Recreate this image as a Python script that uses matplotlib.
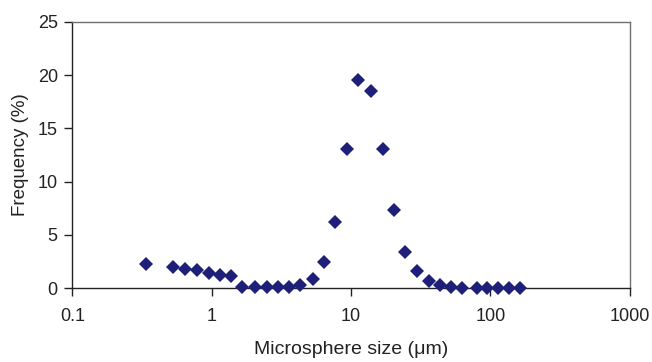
import numpy as np
import matplotlib
matplotlib.use("Agg")
import matplotlib.pyplot as plt
from matplotlib.ticker import FixedLocator, FixedFormatter, NullLocator

# microsphere size (um) and frequency (%)
size_um = [0.34, 0.53, 0.64, 0.79, 0.95, 1.15, 1.38, 1.66, 2.05, 2.48, 2.98,
           3.58, 4.31, 5.34, 6.41, 7.69, 9.3, 11.3, 13.8, 16.8, 20.2, 24.3,
           29.7, 36.1, 43.5, 52.5, 62.9, 79.7, 94.4, 112.6, 135.8, 163.8]
freq_pct = [2.3, 2.0, 1.84, 1.68, 1.43, 1.28, 1.15, 0.15, 0.15, 0.15, 0.15,
            0.15, 0.28, 0.9, 2.43, 6.18, 13.05, 19.5, 18.5, 13.05, 7.34, 3.43,
            1.62, 0.71, 0.28, 0.15, 0.03, 0.03, 0.03, 0.03, 0.03, 0.03]

xticks = [0.1, 1, 10, 100, 1000]
xtick_labels = ["0.1", "1", "10", "100", "1000"]
yticks = [0, 5, 10, 15, 20, 25]

plt.rcParams['font.family'] = ['Liberation Sans', 'DejaVu Sans']

fig = plt.figure(figsize=(6.52, 3.62), dpi=100)
ax = fig.add_axes([0.111, 0.204, 0.855, 0.736])

ax.plot(size_um, freq_pct, linestyle='none', marker='D', markersize=6.8,
        color='#1e1f78', markeredgewidth=0, clip_on=False, zorder=3)

ax.set_xscale('log')
ax.set_xlim(0.1, 1000)
ax.set_ylim(0, 25)
ax.xaxis.set_major_locator(FixedLocator(xticks))
ax.xaxis.set_major_formatter(FixedFormatter(xtick_labels))
ax.xaxis.set_minor_locator(NullLocator())
ax.set_yticks(yticks)

for side in ['left', 'bottom']:
    ax.spines[side].set_color('#222222')
    ax.spines[side].set_linewidth(1.0)
for side in ['top', 'right']:
    ax.spines[side].set_color('#707070')
    ax.spines[side].set_linewidth(1.0)

ax.tick_params(direction='out', length=5.5, width=1, color='#222222',
               labelsize=13, labelcolor='#222222')
ax.tick_params(axis='x', pad=9)
ax.tick_params(axis='y', pad=5)

ax.set_xlabel('Microsphere size (\u03bcm)', fontsize=14, color='#222222', labelpad=11)
ax.set_ylabel('Frequency (%)', fontsize=13.5, color='#222222', labelpad=6)

fig.savefig('out.png', dpi=100)
